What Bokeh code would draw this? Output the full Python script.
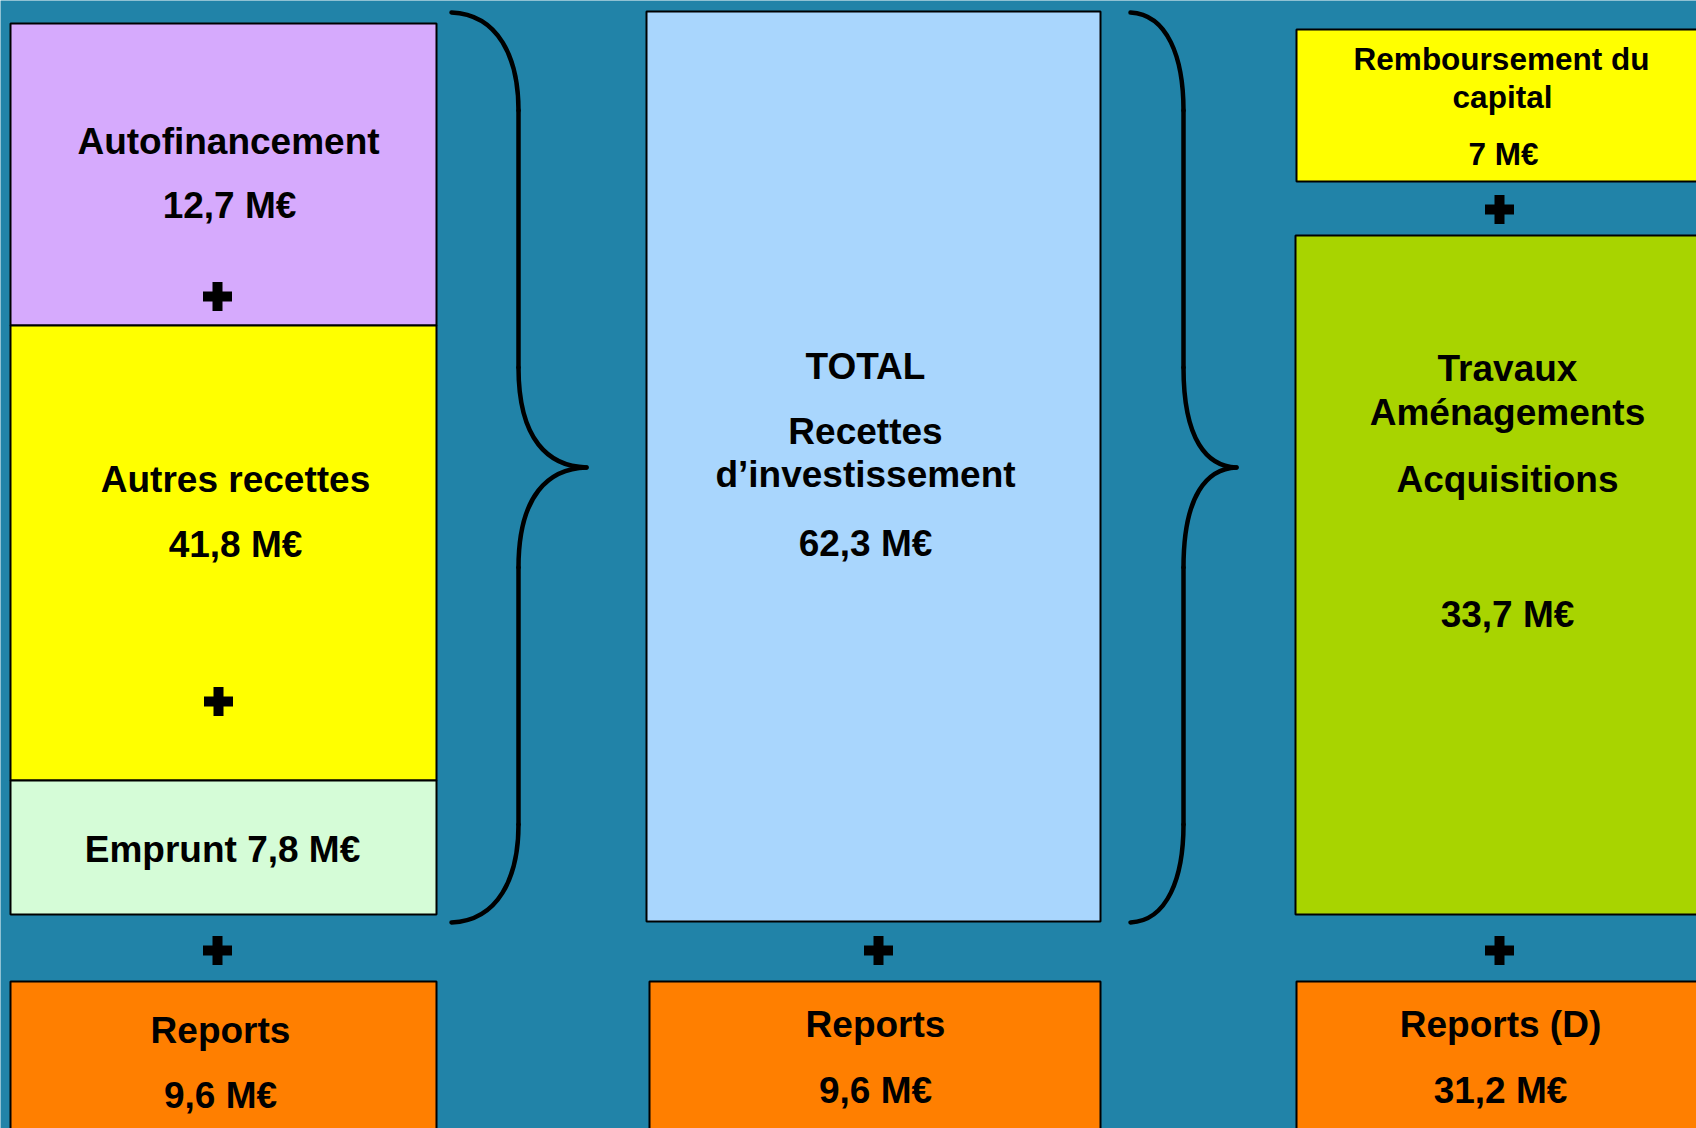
from bokeh.plotting import figure
from bokeh.models import Range1d, ColumnDataSource
from bokeh.core.properties import value
from bokeh.embed import file_html
from bokeh.resources import INLINE

# ---------------- data (M€) ----------------
left_labels = ["Autofinancement", "Autres recettes", "Emprunt"]
left_values = [12.7, 41.8, 7.8]
total_label = ["TOTAL", "Recettes", "d\u2019investissement"]
total_value = 62.3
right_labels = [["Remboursement du", "capital"], ["Travaux", "Aménagements", "Acquisitions"]]
right_values = [7, 33.7]
reports_labels = ["Reports", "Reports", "Reports (D)"]
reports_values = [9.6, 9.6, 31.2]


def fmt(v):
    s = ("%d" % v) if float(v).is_integer() else ("%.1f" % v).replace(".", ",")
    return s + " M€"


# ---------------- styles / layout ----------------
BG = "#2183A8"
PURPLE = "#D6AAFD"
YELLOW = "#FFFF00"
LGREEN = "#D5FCD7"
LBLUE = "#A9D6FD"
OLIVE = "#A8D400"
ORANGE = "#FF7F00"
FONT = value("Liberation Sans")
BIG = "37px"
SMALL = "31.5px"
DY = -13  # baseline correction

W, H = 1696, 1128
p = figure(width=W, height=H, output_backend="svg", toolbar_location=None,
           x_range=Range1d(0, W), y_range=Range1d(H, 0),
           min_border=0)
p.axis.visible = False
p.grid.visible = False
p.outline_line_color = None
p.background_fill_color = BG
p.border_fill_color = BG

# boxes geometry: left, right, top, bottom (pixels)
box_geom = [
    (10, 436, 23, 325, PURPLE),
    (10, 436, 325, 780, YELLOW),
    (10, 436, 780, 914, LGREEN),
    (10, 436, 981, 1140, ORANGE),
    (646, 1100, 11, 921, LBLUE),
    (649, 1100, 981, 1140, ORANGE),
    (1296, 1720, 29, 181, YELLOW),
    (1295, 1720, 235, 914, OLIVE),
    (1296, 1720, 981, 1140, ORANGE),
]
src = ColumnDataSource(dict(
    left=[b[0] for b in box_geom], right=[b[1] for b in box_geom],
    top=[b[2] for b in box_geom], bottom=[b[3] for b in box_geom],
    color=[b[4] for b in box_geom]))
p.quad(left="left", right="right", top="top", bottom="bottom", source=src,
       fill_color="color", line_color="black", line_width=2)

# plus signs
plus_x = [217, 218, 217, 878, 1499, 1499]
plus_y = [296, 701, 950, 950, 209, 950]
p.rect(x=plus_x, y=plus_y, width=29, height=10, fill_color="black", line_color=None)
p.rect(x=plus_x, y=plus_y, width=10, height=29, fill_color="black", line_color=None)


# braces
def brace(x0, xv, xt, ytop, ybot):
    ym = (ytop + ybot) / 2
    a, b = 98, 100
    bz = dict(x0=[], y0=[], x1=[], y1=[], cx0=[], cy0=[], cx1=[], cy1=[])
    segs = [
        (x0, ytop, xv, ytop + a, x0 + (xv - x0) * 0.7, ytop + 2, xv, ytop + 45),
        (xv, ym - b, xt, ym, xv, ym - 27, xv + (xt - xv) * 0.45, ym - 1),
        (xt, ym, xv, ym + b, xv + (xt - xv) * 0.45, ym + 1, xv, ym + 27),
        (xv, ybot - a, x0, ybot, xv, ybot - 45, x0 + (xv - x0) * 0.7, ybot - 2),
    ]
    for s in segs:
        for k, v in zip(["x0", "y0", "x1", "y1", "cx0", "cy0", "cx1", "cy1"], s):
            bz[k].append(v)
    p.bezier(source=ColumnDataSource(bz), x0="x0", y0="y0", x1="x1", y1="y1",
             cx0="cx0", cy0="cy0", cx1="cx1", cy1="cy1",
             line_color="black", line_width=4.5, line_cap="round")
    p.segment(x0=[xv, xv], y0=[ytop + a, ym + b], x1=[xv, xv], y1=[ym - b, ybot - a],
              line_color="black", line_width=4.5, line_cap="round")


brace(451, 518, 586, 12, 922)
brace(1130, 1183, 1236, 12, 922)

# texts
tx, ty, tt, ts = [], [], [], []


def add(x, y, t, size=BIG):
    tx.append(x); ty.append(y + DY); tt.append(t); ts.append(size)


add(228, 154, left_labels[0]); add(229, 218, fmt(left_values[0]))
add(235, 492, left_labels[1]); add(235, 557, fmt(left_values[1]))
add(222, 862, left_labels[2] + " " + fmt(left_values[2]))
add(220, 1043, reports_labels[0]); add(220, 1108, fmt(reports_values[0]))

add(865, 379, total_label[0]); add(865, 444, total_label[1]); add(865, 487, total_label[2])
add(865, 556, fmt(total_value))
add(875, 1037, reports_labels[1]); add(875, 1103, fmt(reports_values[1]))

add(1501, 71, right_labels[0][0], SMALL); add(1502, 109, right_labels[0][1], SMALL)
add(1503, 166, fmt(right_values[0]), SMALL)
add(1507, 381, right_labels[1][0]); add(1507, 425, right_labels[1][1])
add(1507, 492, right_labels[1][2]); add(1507, 627, fmt(right_values[1]))
add(1500, 1037, reports_labels[2]); add(1500, 1103, fmt(reports_values[2]))

p.text(source=ColumnDataSource(dict(x=tx, y=ty, text=tt, size=ts)), x="x", y="y", text="text",
       text_font=FONT, text_font_style="bold", text_font_size="size",
       text_align="center", text_baseline="alphabetic", text_color="black")

html = file_html(p, INLINE)
html = html.replace("<body>", '<body style="background-color:%s;">' % BG, 1)
open("out.html", "w").write(html)
